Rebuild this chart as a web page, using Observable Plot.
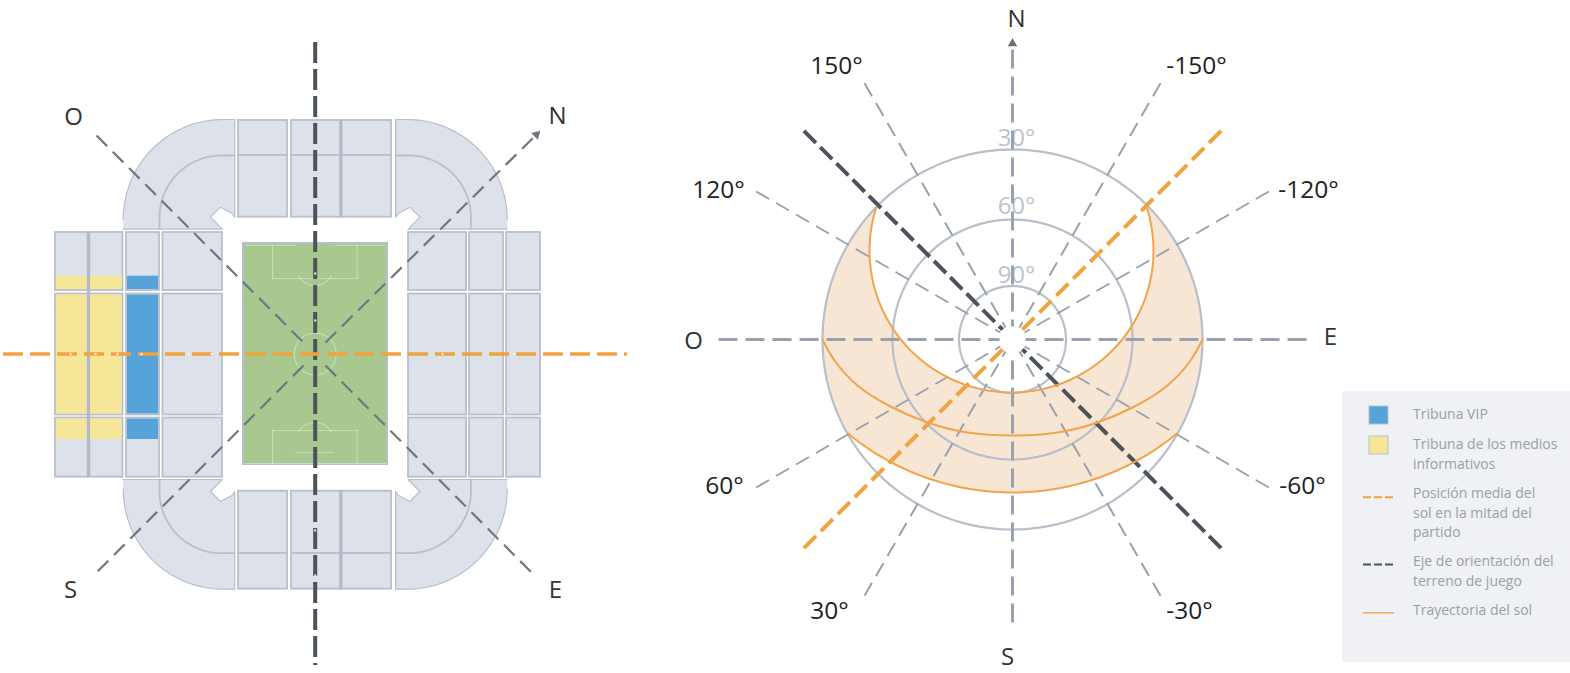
<!DOCTYPE html>
<html><head><meta charset="utf-8">
<script src="https://cdn.jsdelivr.net/npm/d3@7"></script>
<script src="https://cdn.jsdelivr.net/npm/@observablehq/plot@0.6"></script>
<style>html,body{margin:0;padding:0;background:#fff}svg{display:block}</style>
</head><body><div id="chart"></div>
<script>
// ---- Diagram values, all in the 1570x673 drawing space ----
const standLeftCols = [[55,88],[88,122.5],[126,159],[162.5,222]];
const standRightCols = [[408,466],[469,503],[506,540]];
const standSideRows = [[232,290],[293.5,414.5],[417.5,476.7]];
const standTopCols = [[238,287],[291,340.5],[340.5,391]];
const standTopRows = [[120,155],[155,216.7]];
const standBottomRows = [[490.7,553],[553,588.7]];
const yellowCols = [[56,86.5],[90,121.5]];
const blueCols = [[127,158]];
const mediaRows = [[275.7,289],[294.5,413.5],[418.5,439]];
const pitchX = [243,387], pitchY = [243,464];
const stadiumCentre = [314.7,353.85];
const notch = [[234.3,119],[234.3,216.7],[231.7,213],[220,206.7],[210,216.7],[221.7,228.7],[122.7,228.7]];
const stadiumAxes = [
  {name:"O",x1:96,y1:135,x2:303,y2:342,lx:73,ly:117},
  {name:"N",x1:325,y1:342,x2:536,y2:134,lx:557,ly:116},
  {name:"S",x1:303,y1:365,x2:95,y2:573,lx:70,ly:590},
  {name:"E",x1:325,y1:365,x2:533,y2:574,lx:555,ly:590}
];
const polarCentre = [1012,339];
const elevationRadii = [190,120,53.5];
const elevationLabels = ["30°","60°","90°"];
const elevationLabelY = [138,206,275];
const azimuths = [150,120,60,30,-30,-60,-120,-150];
const azimuthLabels = ["150°","120°","60°","30°","-30°","-60°","-120°","-150°"];
const azimuthLabelX = [836,718,724,829,1189,1302,1308,1196];
const azimuthLabelY = [66,190,486,611,611,486,190,66];
const compassNames = ["N","S","O","E"];
const compassX = [1016,1007,693,1330];
const compassY = [19,657,341,337];
const middlePathHalf = [[822,339],[834,360],[857,385],[890,406],[927,422],[967,432],[1012,435]];
const legendText = [
  ["Tribuna VIP",414],["Tribuna de los medios",444],["informativos",464],
  ["Posición media del",493],["sol en la mitad del",513],["partido",532],
  ["Eje de orientación del",561],["terreno de juego",581],["Trayectoria del sol",610]
];
const orangeDots = [70,95,117,141,188,211,442,514], darkDots = [273,320,530,575];

// ---- Colours ----
const stand="#dde1e9", edge="#b8bfcb", yellow="#f5e698", blue="#56a3d9", green="#a9c88f",
      orange="#f0a33f", dark="#4c535b", grey="#98a1ac", greyDiag="#6f7783", sunFill="#f7e6d4", sunLine="#f0a44c";

// ---- Shape helpers ----
const arc=(cx,cy,r,a0,a1,n=48)=>d3.range(n+1).map(i=>{const a=(a0+(a1-a0)*i/n)*Math.PI/180;return [cx+r*Math.cos(a),cy+r*Math.sin(a)];});
const mirrorX=p=>p.map(([x,y])=>[2*stadiumCentre[0]-x,y]);
const mirrorY=p=>p.map(([x,y])=>[x,2*stadiumCentre[1]-y]);
const four=p=>[p,mirrorX(p),mirrorY(p),mirrorX(mirrorY(p))];
const cells=(cols,rows)=>cols.flatMap(c=>rows.map(r=>({x1:c[0],x2:c[1],y1:r[0],y2:r[1]})));
const tag=(polys)=>polys.flatMap((p,i)=>p.map(([x,y])=>({x,y,z:i})));

const cornerOuter=[...arc(222.7,219,100,180,270,40),...notch];
const cornerInner=[[159,228.7],...arc(221,217,62,180,270,32),[234.3,155]];
const [pcx,pcy]=polarCentre;
const ray=(azDeg,r0,r1)=>{const a=azDeg*Math.PI/180;return {x1:pcx-r1*Math.sin(a),y1:pcy-r1*Math.cos(a),x2:pcx-r0*Math.sin(a),y2:pcy-r0*Math.cos(a)};};

// sun paths
const sunInner=arc(1011,250,142,198,-18,90);
const sunMiddle=[...middlePathHalf,...middlePathHalf.slice(0,-1).reverse().map(([x,y])=>[2*pcx-x,y])];
const sunLower=arc(1012,233,259,50.6,129.4,70);
const rim=(a0,a1)=>arc(pcx,pcy,elevationRadii[0],a0,a1,40);
const rimAngle=([x,y])=>Math.atan2(y-pcy,x-pcx)*180/Math.PI;
const sunBand=[...sunInner,...rim(rimAngle(sunInner[sunInner.length-1]),rimAngle(sunLower[0])),...sunLower,...rim(rimAngle(sunLower[sunLower.length-1]),rimAngle(sunInner[0])+360)];

const poly=(pts,o)=>Plot.line(pts,{x:d=>d[0],y:d=>d[1],...o});
const links=(d,o)=>Plot.link(d,{x1:"x1",y1:"y1",x2:"x2",y2:"y2",...o});
const rects=(d,o)=>Plot.rect(d,{x1:"x1",x2:"x2",y1:"y1",y2:"y2",...o});
const solid={stroke:edge,strokeWidth:1.8};
const ff="'Open Sans'";

const pitchMarks=[
  [[272,278],[356.7,278]],[[272,245],[272,278]],[[356.7,245],[356.7,278]],[[245,245],[295,245]],[[335,245],[385,245]],
  [[272,430],[356.7,430]],[[272,430],[272,463]],[[356.7,430],[356.7,463]],[[245,463],[385,463]],[[295,452],[333,452]],
  arc(314.5,266,19,30,150,16), arc(314.5,441,19,210,330,16), arc(314.7,353.5,21,0,360,48)
];

const chart=Plot.plot({
  width:1570,height:673,margin:0,
  x:{domain:[0,1570],range:[0,1570],axis:null},
  y:{domain:[0,673],range:[0,673],axis:null},
  style:{background:"#fff",fontFamily:ff},
  marks:[
    // stadium
    Plot.line(tag(four(cornerOuter)),{x:"x",y:"y",z:"z",fill:stand,stroke:edge,strokeWidth:1.2}),
    Plot.line(tag(four(cornerInner)),{x:"x",y:"y",z:"z",stroke:edge,strokeWidth:1.8}),
    rects(cells(standLeftCols,standSideRows),{fill:stand,...solid}),
    rects(cells(standRightCols,standSideRows),{fill:stand,...solid}),
    rects(cells(standTopCols,standTopRows),{fill:stand,...solid}),
    rects(cells(standTopCols,standBottomRows),{fill:stand,...solid}),
    Plot.ruleX([88],{y1:232,y2:476.7,stroke:"#b3b9c5",strokeWidth:3.4}),
    Plot.ruleX([340.5],{y1:120,y2:216.7,stroke:"#b3b9c5",strokeWidth:3}),
    Plot.ruleX([340.5],{y1:490.7,y2:588.7,stroke:"#b3b9c5",strokeWidth:3}),
    rects(cells(yellowCols,mediaRows),{fill:yellow}),
    rects(cells(blueCols,mediaRows),{fill:blue}),
    rects([{x1:pitchX[0],x2:pitchX[1],y1:pitchY[0],y2:pitchY[1]}],{fill:green,stroke:edge,strokeWidth:2}),
    Plot.line(tag(pitchMarks),{x:"x",y:"y",z:"z",stroke:"#fff",strokeOpacity:.35,strokeWidth:1.2}),
    links(stadiumAxes,{stroke:greyDiag,strokeWidth:2.2,strokeDasharray:"15 8"}),
    Plot.dot([stadiumAxes[1]],{x:"x2",y:"y2",symbol:"triangle",r:3.5,fill:greyDiag,stroke:"none",rotate:46}),
    Plot.ruleX([stadiumCentre[0]],{y1:42,y2:665,stroke:dark,strokeWidth:4,strokeDasharray:"21 6"}),
    Plot.ruleY([353.5],{x1:3,x2:627,stroke:orange,strokeWidth:3.6,strokeDasharray:"20 7"}),
    Plot.dot(orangeDots,{x:d=>d,y:()=>353.5,r:1.2,fill:"#fff",fillOpacity:.8}),
    Plot.dot(darkDots,{x:()=>stadiumCentre[0],y:d=>d,r:1.2,fill:"#fff",fillOpacity:.8}),
    Plot.text(stadiumAxes,{x:"lx",y:"ly",text:"name",fontSize:24,fill:"#333"}),
    // polar chart
    poly(sunBand,{fill:sunFill,stroke:"none"}),
    ...elevationRadii.map(r=>poly(arc(pcx,pcy,r,0,360,180),{stroke:edge,strokeWidth:2.2})),
    Plot.text(elevationLabels,{x:()=>1016,y:(d,i)=>elevationLabelY[i],text:d=>d,fontSize:24,fill:"#bcc3cd"}),
    links(azimuths.map(a=>ray(a,14,296)),{stroke:grey,strokeWidth:2,strokeDasharray:"15 8"}),
    links([ray(90,13,294),ray(-90,13,294),ray(0,13,290),ray(180,13,283)],{stroke:grey,strokeWidth:3,strokeDasharray:"19 8"}),
    Plot.dot([ray(0,13,296)],{x:"x1",y:"y1",symbol:"triangle",r:3.5,fill:"#68707b",stroke:"none"}),
    links([ray(45,14,295),ray(-135,14,295)],{stroke:dark,strokeWidth:4,strokeDasharray:"17 6"}),
    links([ray(-45,14,295),ray(135,14,295)],{stroke:orange,strokeWidth:4,strokeDasharray:"17 7"}),
    poly(sunInner,{stroke:sunLine,strokeWidth:2}),
    poly(sunMiddle,{stroke:sunLine,strokeWidth:2,curve:"natural"}),
    poly(sunLower,{stroke:sunLine,strokeWidth:2}),
    Plot.text(azimuthLabels,{x:(d,i)=>azimuthLabelX[i],y:(d,i)=>azimuthLabelY[i],text:d=>d,fontSize:24.5,fill:"#222"}),
    Plot.text(compassNames,{x:(d,i)=>compassX[i],y:(d,i)=>compassY[i],text:d=>d,fontSize:24,fill:"#333"}),
    // legend
    rects([{x1:1342,x2:1570,y1:391,y2:662}],{fill:"#eff1f4"}),
    rects([{x1:1369,x2:1388,y1:406,y2:424}],{fill:blue,stroke:edge}),
    rects([{x1:1369,x2:1388,y1:436,y2:454}],{fill:yellow,stroke:edge}),
    Plot.ruleY([496.7],{x1:1363,x2:1393,stroke:orange,strokeWidth:2,strokeDasharray:"8 3"}),
    Plot.ruleY([564],{x1:1363,x2:1393,stroke:dark,strokeWidth:2,strokeDasharray:"8 3"}),
    Plot.ruleY([612.3],{x1:1363,x2:1394,stroke:sunLine,strokeWidth:1.4}),
    Plot.text(legendText,{x:()=>1412.5,y:d=>d[1],text:d=>d[0],textAnchor:"start",fontSize:14,fill:"#98a0a9",fontFamily:ff})
  ]
});
document.getElementById("chart").append(chart);
</script></body></html>
